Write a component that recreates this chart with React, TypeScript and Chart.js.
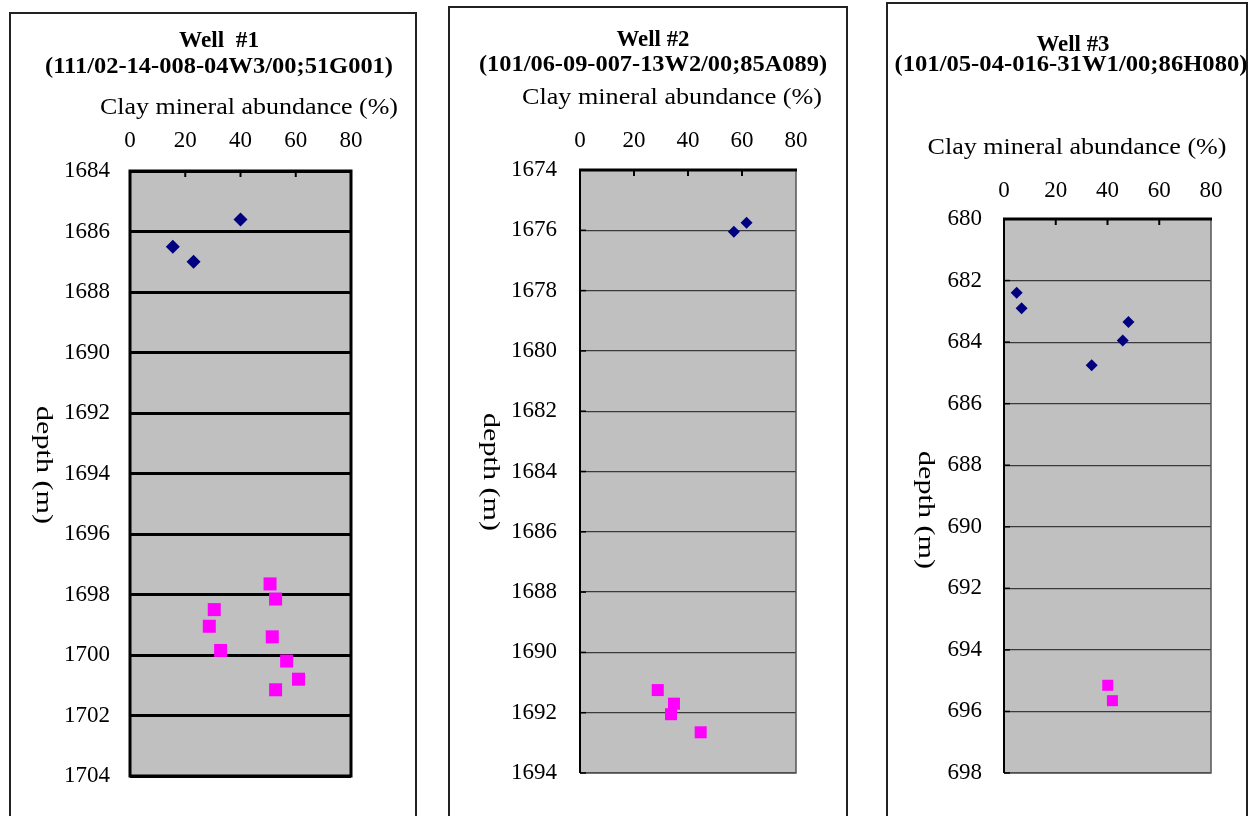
import React, { useEffect, useRef, useState } from "react";
import { Chart, registerables } from "chart.js";

Chart.register(...registerables);

// ---------- data ----------
const abundanceTicks = [0, 20, 40, 60, 80];

const well1DiamondAbundance = [40, 15.5, 23];
const well1DiamondDepth = [1685.6, 1686.5, 1687.0];
const well1SquareAbundance = [50.7, 52.7, 30.5, 28.7, 51.5, 32.8, 56.7, 61, 52.7];
const well1SquareDepth = [1697.65, 1698.15, 1698.5, 1699.05, 1699.4, 1699.85, 1700.2, 1700.8, 1701.15];

const well2DiamondAbundance = [57, 61.7];
const well2DiamondDepth = [1676.05, 1675.75];
const well2SquareAbundance = [28.8, 34.8, 33.7, 44.7];
const well2SquareDepth = [1691.25, 1691.7, 1692.05, 1692.65];

const well3DiamondAbundance = [4.9, 6.8, 48.1, 45.9, 33.9];
const well3DiamondDepth = [682.4, 682.9, 683.35, 683.95, 684.75];
const well3SquareAbundance = [40.1, 41.9];
const well3SquareDepth = [695.15, 695.65];

const wellNames = ["Well  #1", "Well #2", "Well #3"];
const wellIds = [
  "(111/02-14-008-04W3/00;51G001)",
  "(101/06-09-007-13W2/00;85A089)",
  "(101/05-04-016-31W1/00;86H080)",
];
const xAxisTitle = "Clay mineral abundance (%)";
const yAxisTitle = "depth (m)";

const depthRanges = [
  [1684, 1704],
  [1674, 1694],
  [680, 698],
];

// ---------- helpers ----------
const SERIF = '"Liberation Serif", "Times New Roman", Times, serif';
const NAVY = "#000080";
const MAGENTA = "#ff00ff";

function pts(xs: number[], ys: number[]) {
  return xs.map((x, i) => ({ x, y: ys[i] }));
}

type TextSpec = { text: string; x: number; y: number; w: number; font: string; rot?: boolean };

const decorPlugin = {
  id: "panelDecor",
  beforeDraw(chart: any) {
    const { ctx, chartArea: a } = chart;
    ctx.save();
    ctx.fillStyle = "#c0c0c0";
    ctx.fillRect(a.left, a.top, a.right - a.left, a.bottom - a.top);
    ctx.restore();
  },
  beforeDatasetsDraw(chart: any, _args: any, opts: any) {
    const { ctx, chartArea: a } = chart;
    const xs = chart.scales.x;
    const ys = chart.scales.y;
    ctx.save();
    if (opts.heavy) {
      ctx.strokeStyle = "#000";
      ctx.lineWidth = 3;
      ctx.strokeRect(a.left, a.top, a.right - a.left, a.bottom - a.top);
    } else {
      ctx.lineWidth = 1.5;
      ctx.strokeStyle = "#555";
      ctx.beginPath();
      ctx.moveTo(a.right, a.top);
      ctx.lineTo(a.right, a.bottom);
      ctx.lineTo(a.left, a.bottom);
      ctx.stroke();
      ctx.strokeStyle = "#000";
      ctx.lineWidth = 2;
      ctx.beginPath();
      ctx.moveTo(a.left, a.bottom);
      ctx.lineTo(a.left, a.top);
      ctx.stroke();
      ctx.lineWidth = 3;
      ctx.beginPath();
      ctx.moveTo(a.left - 1, a.top);
      ctx.lineTo(a.right + 1, a.top);
      ctx.stroke();
      ctx.lineWidth = 1.5;
      for (const t of ys.ticks) {
        const py = ys.getPixelForValue(t.value);
        ctx.beginPath();
        ctx.moveTo(a.left, py);
        ctx.lineTo(a.left + 6, py);
        ctx.stroke();
      }
    }
    ctx.strokeStyle = "#000";
    ctx.lineWidth = 2;
    for (const v of abundanceTicks) {
      if (v === xs.min || v === xs.max) continue;
      const px = xs.getPixelForValue(v);
      ctx.beginPath();
      ctx.moveTo(px, a.top);
      ctx.lineTo(px, a.top + 6);
      ctx.stroke();
    }
    ctx.restore();
  },
  afterDraw(chart: any, _args: any, opts: any) {
    const { ctx } = chart;
    const texts: TextSpec[] = opts.texts || [];
    for (const t of texts) {
      ctx.save();
      ctx.translate(t.x - opts.offsetX, t.y);
      if (t.rot) ctx.rotate(Math.PI / 2);
      ctx.font = t.font;
      const m = ctx.measureText(t.text).width;
      ctx.scale(t.w / m, 1);
      ctx.textAlign = "center";
      ctx.textBaseline = "middle";
      ctx.fillStyle = "#000";
      ctx.fillText(t.text, 0, 0);
      ctx.restore();
    }
  },
};

type PanelProps = {
  idx: number;
  ready: number;
  canvasLeft: number;
  canvasWidth: number;
  yAxisWidth: number;
  padding: { left: number; right: number; top: number; bottom: number };
  xLabelPad: number;
  yLabelPad: number;
  heavy: boolean;
  diamondX: number[];
  diamondY: number[];
  squareX: number[];
  squareY: number[];
  diamondR: number;
  squareR: number;
  texts: TextSpec[];
};

const TICK_SIZE = 23;

function Panel(p: PanelProps) {
  const ref = useRef<HTMLCanvasElement | null>(null);
  useEffect(() => {
    if (!ref.current) return;
    const [yMin, yMax] = depthRanges[p.idx];
    const chart = new Chart(ref.current, {
      type: "scatter",
      data: {
        datasets: [
          {
            data: pts(p.diamondX, p.diamondY),
            pointStyle: "rectRot",
            pointRadius: p.diamondR,
            backgroundColor: NAVY,
            borderColor: NAVY,
            borderWidth: 0,
          },
          {
            data: pts(p.squareX, p.squareY),
            pointStyle: "rect",
            pointRadius: p.squareR,
            backgroundColor: MAGENTA,
            borderColor: MAGENTA,
            borderWidth: 0,
          },
        ],
      },
      options: {
        animation: false,
        responsive: false,
        devicePixelRatio: 1,
        layout: { padding: p.padding },
        plugins: {
          legend: { display: false },
          tooltip: { enabled: false },
          title: { display: false },
          panelDecor: { heavy: p.heavy, texts: p.texts, offsetX: p.canvasLeft },
        } as any,
        scales: {
          x: {
            type: "linear",
            position: "top",
            min: abundanceTicks[0],
            max: abundanceTicks[abundanceTicks.length - 1],
            afterBuildTicks: (s: any) => {
              s.ticks = abundanceTicks.map((v) => ({ value: v }));
            },
            afterFit: (s: any) => {
              s.height = 50;
            },
            grid: { display: false, drawTicks: false },
            border: { display: false },
            ticks: {
              color: "#000",
              padding: p.xLabelPad,
              maxRotation: 0,
              autoSkip: false,
              font: { family: SERIF, size: TICK_SIZE },
              callback: (v: any) => String(v),
            },
          },
          y: {
            type: "linear",
            reverse: true,
            min: yMin,
            max: yMax,
            afterFit: (s: any) => {
              s.width = p.yAxisWidth;
            },
            grid: {
              display: true,
              drawTicks: false,
              color: p.heavy ? "#000" : "#3a3a3a",
              lineWidth: p.heavy ? 3 : 1.2,
            },
            border: { display: false },
            ticks: {
              stepSize: 2,
              color: "#000",
              padding: p.yLabelPad,
              autoSkip: false,
              font: { family: SERIF, size: TICK_SIZE },
              callback: (v: any) => String(v),
            },
          },
        },
      },
      plugins: [decorPlugin as any],
    });
    return () => chart.destroy();
  }, [p.ready]);
  return (
    <canvas
      ref={ref}
      width={p.canvasWidth}
      height={816}
      style={{ position: "absolute", left: p.canvasLeft, top: 0, width: p.canvasWidth, height: 816 }}
    />
  );
}

const boldFont = `bold 24px ${SERIF}`;
const regFont = `24px ${SERIF}`;

export default function App() {
  const [ready, setReady] = useState(0);
  useEffect(() => {
    const fonts = (document as any).fonts;
    if (fonts && fonts.load) {
      Promise.all([
        fonts.load(`22px "Liberation Serif"`),
        fonts.load(`bold 22px "Liberation Serif"`),
      ])
        .then(() => setReady(1))
        .catch(() => setReady(1));
    }
  }, []);
  return (
    <div
      style={{
        position: "fixed",
        left: 0,
        top: 0,
        width: 1250,
        height: 816,
        overflow: "hidden",
        background: "#fff",
        fontFamily: SERIF,
      }}
    >
      <span style={{ position: "absolute", left: -1000, top: 0, fontFamily: SERIF }}>0</span>
      <span style={{ position: "absolute", left: -1000, top: 0, fontFamily: SERIF, fontWeight: "bold" }}>0</span>
      <div style={{ position: "absolute", left: 9, top: 12, width: 408, height: 840, border: "2px solid #222", boxSizing: "border-box" }} />
      <div style={{ position: "absolute", left: 448, top: 6, width: 400, height: 840, border: "2px solid #222", boxSizing: "border-box" }} />
      <div style={{ position: "absolute", left: 886, top: 2, width: 362, height: 840, border: "2px solid #222", boxSizing: "border-box" }} />
      <Panel
        idx={0}
        ready={ready}
        canvasLeft={0}
        canvasWidth={430}
        yAxisWidth={130}
        padding={{ left: 0, right: 79, top: 121, bottom: 40 }}
        xLabelPad={16}
        yLabelPad={20}
        heavy={true}
        diamondX={well1DiamondAbundance}
        diamondY={well1DiamondDepth}
        squareX={well1SquareAbundance}
        squareY={well1SquareDepth}
        diamondR={7}
        squareR={9.2}
        texts={[
          { text: wellNames[0], x: 219, y: 41, w: 80, font: boldFont },
          { text: wellIds[0], x: 219, y: 67, w: 348, font: boldFont },
          { text: xAxisTitle, x: 249, y: 108, w: 298, font: regFont },
          { text: yAxisTitle, x: 43, y: 465, w: 118, font: regFont, rot: true },
        ]}
      />
      <Panel
        idx={1}
        ready={ready}
        canvasLeft={430}
        canvasWidth={440}
        yAxisWidth={150}
        padding={{ left: 0, right: 74, top: 120, bottom: 43 }}
        xLabelPad={15}
        yLabelPad={23}
        heavy={false}
        diamondX={well2DiamondAbundance}
        diamondY={well2DiamondDepth}
        squareX={well2SquareAbundance}
        squareY={well2SquareDepth}
        diamondR={6}
        squareR={8.5}
        texts={[
          { text: wellNames[1], x: 653, y: 40, w: 73, font: boldFont },
          { text: wellIds[1], x: 653, y: 65, w: 348, font: boldFont },
          { text: xAxisTitle, x: 672, y: 98, w: 300, font: regFont },
          { text: yAxisTitle, x: 490, y: 472, w: 118, font: regFont, rot: true },
        ]}
      />
      <Panel
        idx={2}
        ready={ready}
        canvasLeft={870}
        canvasWidth={380}
        yAxisWidth={134}
        padding={{ left: 0, right: 39, top: 169, bottom: 43 }}
        xLabelPad={14}
        yLabelPad={22}
        heavy={false}
        diamondX={well3DiamondAbundance}
        diamondY={well3DiamondDepth}
        squareX={well3SquareAbundance}
        squareY={well3SquareDepth}
        diamondR={6}
        squareR={7.8}
        texts={[
          { text: wellNames[2], x: 1073, y: 45, w: 73, font: boldFont },
          { text: wellIds[2], x: 1071, y: 65, w: 353, font: boldFont },
          { text: xAxisTitle, x: 1077, y: 148, w: 299, font: regFont },
          { text: yAxisTitle, x: 925, y: 510, w: 118, font: regFont, rot: true },
        ]}
      />
    </div>
  );
}
